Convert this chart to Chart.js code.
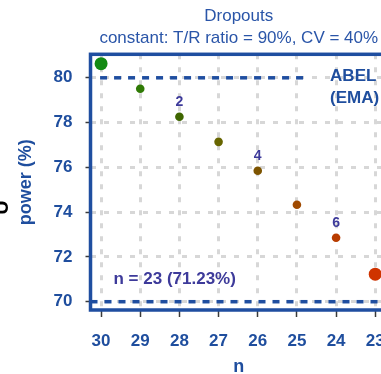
<!DOCTYPE html>
<html>
<head>
<meta charset="utf-8">
<script src="https://cdn.jsdelivr.net/npm/chart.js@4/dist/chart.umd.min.js"></script>
<style>
  html, body { margin: 0; padding: 0; overflow: hidden; background: #ffffff; }
  #wrap { width: 400px; height: 380px; }
</style>
</head>
<body>
<div id="wrap"><canvas id="c" width="400" height="380"></canvas></div>
<script>
// Sample size after dropouts and the resulting power (%)
const sampleSizes = [30, 29, 28, 27, 26, 25, 24, 23];
const powerPct    = [80.63, 79.51, 78.26, 77.14, 75.85, 74.33, 72.86, 71.23];
const dropouts    = [0, 1, 2, 3, 4, 5, 6, 7];
const labelledDropouts = [2, 4, 6];

// Tick values
const xTickValues = [30, 29, 28, 27, 26, 25, 24, 23];
const yTickValues = [70, 72, 74, 76, 78, 80];

// Reference levels
const abelLimit   = 80;
const targetPower = 70;

// Marker styling (green for full sample, shading to red)
const pointColors = ['#138a13', '#2f7a05', '#3f6600', '#676500', '#7d5400', '#a04a00', '#b83c00', '#cf3300'];
const pointRadii  = [6.5, 4.3, 4.3, 4.3, 4.3, 4.3, 4.3, 6.5];

const FONT = "'Liberation Sans', Arial, Helvetica, sans-serif";
const BLUE = '#1f4e9e';
const FRAME = '#1f4ea0';
const NOTE = '#3d3a9a';

const overlay = {
  id: 'overlay',
  beforeDatasetsDraw(chart) {
    const { ctx, chartArea: a, scales: { x, y } } = chart;
    const abelTextX = x.getPixelForValue(24) - 6;
    ctx.save();
    ctx.strokeStyle = FRAME;
    ctx.lineWidth = 3.5;
    ctx.setLineDash([7, 7]);
    const yA = y.getPixelForValue(abelLimit);
    ctx.beginPath();
    ctx.moveTo(x.getPixelForValue(sampleSizes[0]) - 1, yA);
    ctx.lineTo(abelTextX - 22, yA);
    ctx.stroke();
    const yT = y.getPixelForValue(targetPower);
    ctx.beginPath();
    ctx.moveTo(a.left, yT);
    ctx.lineTo(a.right, yT);
    ctx.stroke();
    ctx.restore();
  },
  afterDatasetsDraw(chart) {
    const { ctx, chartArea: a, scales: { x, y } } = chart;
    ctx.save();
    // dropout counts above selected points
    ctx.fillStyle = NOTE;
    ctx.font = 'bold 14px ' + FONT;
    ctx.textAlign = 'center';
    ctx.textBaseline = 'middle';
    sampleSizes.forEach((n, i) => {
      if (labelledDropouts.includes(dropouts[i])) {
        ctx.fillText(String(dropouts[i]), x.getPixelForValue(n), y.getPixelForValue(powerPct[i]) - 15);
      }
    });
    // final sample size and power
    const last = sampleSizes.length - 1;
    ctx.font = 'bold 17px ' + FONT;
    ctx.textAlign = 'left';
    ctx.fillText('n = ' + sampleSizes[last] + ' (' + powerPct[last].toFixed(2) + '%)',
                 a.left + 23, y.getPixelForValue(powerPct[last]) + 5.5);
    // ABEL label next to the 80% line
    ctx.fillStyle = BLUE;
    const abelTextX = x.getPixelForValue(24) - 6;
    const yA = y.getPixelForValue(abelLimit);
    ctx.fillText('ABEL', abelTextX, yA - 1);
    ctx.fillText('(EMA)', abelTextX, yA + 21);
    ctx.restore();
  },
  afterDraw(chart) {
    const { ctx, chartArea: a } = chart;
    ctx.save();
    ctx.strokeStyle = FRAME;
    ctx.lineWidth = 3.5;
    ctx.strokeRect(a.left, a.top, a.right - a.left, a.bottom - a.top);
    // edge of the neighbouring panel's label
    ctx.translate(8, 207.5);
    ctx.rotate(-Math.PI / 2);
    ctx.fillStyle = '#000000';
    ctx.font = 'bold 20px ' + FONT;
    ctx.textAlign = 'center';
    ctx.textBaseline = 'alphabetic';
    ctx.fillText('U', 0, 0);
    ctx.restore();
  }
};

const gridOpts = (tickLength) => ({
  color: '#d7d7d7',
  lineWidth: 3,
  drawTicks: true,
  tickLength: tickLength,
  tickColor: '#3a3a3a',
  tickWidth: 1.5,
  tickBorderDash: []
});

new Chart(document.getElementById('c'), {
  type: 'scatter',
  data: {
    datasets: [{
      data: sampleSizes.map((n, i) => ({ x: n, y: powerPct[i] })),
      pointBackgroundColor: pointColors,
      pointBorderColor: pointColors,
      pointRadius: pointRadii,
      pointHoverRadius: pointRadii,
      borderWidth: 0,
      showLine: false
    }]
  },
  options: {
    responsive: false,
    animation: false,
    events: [],
    layout: { padding: { left: 0, right: 13, top: 0, bottom: 0 } },
    plugins: {
      legend: { display: false },
      tooltip: { enabled: false },
      title: {
        display: true, text: 'Dropouts', color: '#2a55a8', fullSize: false,
        font: { family: FONT, size: 17, weight: 'normal', lineHeight: 1.2 },
        padding: { top: 6, bottom: 1 }
      },
      subtitle: {
        display: true, text: 'constant: T/R ratio = 90%, CV = 40%', color: '#2a55a8', fullSize: false,
        font: { family: FONT, size: 17, weight: 'normal', lineHeight: 1.2 },
        padding: { top: 1, bottom: 5.5 }
      }
    },
    scales: {
      x: {
        type: 'linear', reverse: true, min: 22.7, max: 30.27,
        afterBuildTicks: s => { s.ticks = xTickValues.map(v => ({ value: v })); },
        afterFit: s => { s.height = 70; },
        grid: gridOpts(7),
        border: { display: false, dash: [5, 8] },
        ticks: { color: BLUE, font: { family: FONT, size: 17, weight: 'bold' }, padding: 14, maxRotation: 0, autoSkip: false },
        title: { display: true, text: 'n', color: BLUE, font: { family: FONT, size: 18, weight: 'bold', lineHeight: 1.2 }, padding: { top: 0, bottom: 2 } }
      },
      y: {
        type: 'linear', min: 69.63, max: 81.05,
        afterBuildTicks: s => { s.ticks = yTickValues.map(v => ({ value: v })); },
        afterFit: s => { s.width = 90.5; },
        grid: gridOpts(5),
        border: { display: false, dash: [5, 8] },
        ticks: { color: BLUE, font: { family: FONT, size: 17, weight: 'bold' }, padding: 13 },
        title: { display: true, text: 'power (%)', color: BLUE, font: { family: FONT, size: 18, weight: 'bold', lineHeight: 1.2 }, padding: { top: 15.2, bottom: 0 } }
      }
    }
  },
  plugins: [overlay]
});
</script>
</body>
</html>
